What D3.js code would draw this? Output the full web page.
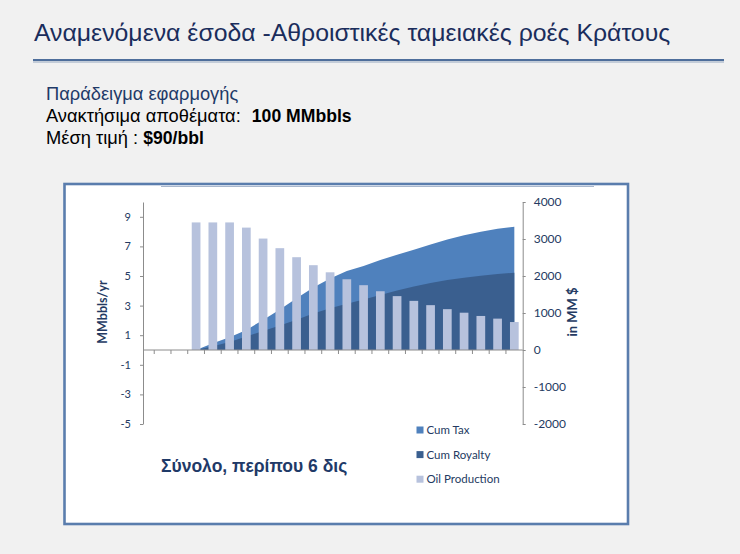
<!DOCTYPE html>
<html>
<head>
<meta charset="utf-8">
<script src="https://cdn.jsdelivr.net/npm/d3@7"></script>
<style>
  body { margin: 0; background: #f1f1f1; }
  svg { display: block; }
</style>
</head>
<body>
<svg id="chart" width="740" height="554"></svg>
<script>
// years on the category axis (first two are before production starts)
const years = [-1, 0, 1, 2, 3, 4, 5, 6, 7, 8, 9, 10, 11, 12, 13, 14, 15, 16, 17, 18, 19, 20];
const prodYears = [1, 2, 3, 4, 5, 6, 7, 8, 9, 10, 11, 12, 13, 14, 15, 16, 17, 18, 19, 20];

// MMbbls/yr
const oilProduction = [8.62, 8.62, 8.62, 8.27, 7.53, 6.88, 6.27, 5.73, 5.25, 4.78,
                       4.38, 3.97, 3.64, 3.32, 3.03, 2.76, 2.52, 2.30, 2.12, 1.89];
// in MM $
const cumTax = [0, 180, 345, 543, 812, 1097, 1399, 1690, 1935, 2134,
                2270, 2431, 2575, 2712, 2849, 2985, 3101, 3196, 3274, 3332];
const cumRoyalty = [0, 100, 214, 364, 512, 660, 819, 984, 1131, 1250,
                    1366, 1489, 1607, 1718, 1813, 1891, 1956, 2006, 2053, 2090];

const leftTicks = [-5, -3, -1, 1, 3, 5, 7, 9];
const rightTicks = [-2000, -1000, 0, 1000, 2000, 3000, 4000];

const legendItems = [
    { name: "Cum Tax", color: "#4f81bd" },
    { name: "Cum Royalty", color: "#3a5f8f" },
    { name: "Oil Production", color: "#b7c2dd" }
];

const svg = d3.select("#chart");
const sans = "'Liberation Sans', Arial, sans-serif";

// page heading
svg.append("text")
   .attr("x", 34)
   .attr("y", 41)
   .attr("fill", "#1a2d5c")
   .style("font-family", sans)
   .style("font-size", "24.8px")
   .text("Αναμενόμενα έσοδα -Αθροιστικές ταμειακές ροές Κράτους");

svg.append("line")
   .attr("x1", 33).attr("x2", 724)
   .attr("y1", 62).attr("y2", 62)
   .attr("stroke", "#c3ccd8")
   .attr("stroke-width", 2);
svg.append("line")
   .attr("x1", 33).attr("x2", 724)
   .attr("y1", 60).attr("y2", 60)
   .attr("stroke", "#4e6e9b")
   .attr("stroke-width", 2.2);

const info = svg.append("g")
                .style("font-family", sans)
                .style("font-size", "18.3px");

info.append("text")
    .attr("x", 46).attr("y", 100)
    .attr("fill", "#1f3a68")
    .text("Παράδειγμα εφαρμογής");

const l2 = info.append("text").attr("x", 46).attr("y", 122).attr("fill", "#000");
l2.append("tspan").text("Ανακτήσιμα αποθέματα: ");
l2.append("tspan")
  .attr("dx", 6)
  .style("font-weight", "bold")
  .style("font-size", "17.6px")
  .text("100 MMbbls");

const l3 = info.append("text").attr("x", 46).attr("y", 144).attr("fill", "#000");
l3.append("tspan").text("Μέση τιμή : ");
l3.append("tspan")
  .style("font-weight", "bold")
  .style("font-size", "17.6px")
  .text("$90/bbl");

// chart frame
svg.append("rect")
   .attr("x", 64.5).attr("y", 184)
   .attr("width", 563.5).attr("height", 340)
   .attr("fill", "#fff")
   .attr("stroke", "#5a7dad")
   .attr("stroke-width", 2.6);
svg.append("line")
   .attr("x1", 161).attr("x2", 594)
   .attr("y1", 186.5).attr("y2", 186.5)
   .attr("stroke", "#a9b7cc")
   .attr("stroke-width", 1.2);

const plotLeft = 143;
const plotRight = 522.7;
const plotTop = 202;
const plotBottom = 424;

const x = d3.scaleBand()
            .domain(years)
            .range([plotLeft, plotRight])
            .paddingInner(0)
            .paddingOuter(0.335)
            .align(1);

const yL = d3.scaleLinear().domain([-5, 10]).range([plotBottom, plotTop]);
const yR = d3.scaleLinear().domain([-2000, 4000]).range([plotBottom, plotTop]);

const cx = d => x(d) + x.bandwidth() / 2;

const area = vals => d3.area()
    .x((d, i) => cx(prodYears[i]))
    .y0(yR(0))
    .y1(d => yR(d))(vals);

svg.append("path")
   .attr("d", area(cumTax))
   .attr("fill", "#4f81bd");

svg.append("path")
   .attr("d", area(cumRoyalty))
   .attr("fill", "#3a5f8f");

const barW = x.bandwidth() * 0.52;
svg.selectAll(".bar")
   .data(oilProduction)
   .enter()
   .append("rect")
   .attr("class", "bar")
   .attr("x", (d, i) => cx(prodYears[i]) - barW / 2)
   .attr("y", d => yL(d))
   .attr("width", barW)
   .attr("height", d => yL(0) - yL(d))
   .attr("fill", "#b7c2dd");

// axes
const axisFont = "Lato, 'Open Sans', sans-serif";

const gLeft = svg.append("g")
                 .attr("transform", `translate(${plotLeft},0)`)
                 .call(d3.axisLeft(yL)
                         .tickValues(leftTicks)
                         .tickFormat(d => String(d))
                         .tickSize(3).tickPadding(9).tickSizeOuter(0));

const gRight = svg.append("g")
                  .attr("transform", `translate(${plotRight},0)`)
                  .call(d3.axisRight(yR)
                          .tickValues(rightTicks)
                          .tickFormat(d => String(d))
                          .tickSize(3).tickPadding(8).tickSizeOuter(0));

[gLeft, gRight].forEach(g => {
    g.selectAll("path, line").attr("stroke", "#8c8c8c");
    g.selectAll("text")
     .attr("fill", "#243a62")
     .style("font-family", axisFont);
});
gLeft.selectAll("text").style("font-size", "11px");
gRight.selectAll("text").style("font-size", "12px");

// category axis at zero with ticks between categories
svg.append("line")
   .attr("x1", plotLeft).attr("x2", plotRight)
   .attr("y1", yL(0)).attr("y2", yL(0))
   .attr("stroke", "#8c8c8c");

svg.selectAll(".xtick")
   .data(years)
   .enter()
   .append("line")
   .attr("class", "xtick")
   .attr("x1", d => x(d)).attr("x2", d => x(d))
   .attr("y1", yL(0)).attr("y2", yL(0) + 4)
   .attr("stroke", "#8c8c8c");

svg.append("text")
   .attr("transform", `translate(107,312) rotate(-90)`)
   .attr("text-anchor", "middle")
   .attr("fill", "#243a62")
   .style("font-family", axisFont)
   .style("font-size", "12.5px")
   .style("font-weight", "bold")
   .text("MMbbls/yr");

svg.append("text")
   .attr("transform", `translate(577,312) rotate(-90)`)
   .attr("text-anchor", "middle")
   .attr("fill", "#243a62")
   .style("font-family", axisFont)
   .style("font-size", "13px")
   .style("font-weight", "bold")
   .text("in MM $");

// legend
const legend = svg.append("g")
                  .attr("transform", "translate(416.5,430)");

legendItems.forEach((item, i) => {
    const row = legend.append("g")
                      .attr("transform", `translate(0,${i * 24.6})`);
    row.append("rect")
       .attr("x", 0).attr("y", -3.5)
       .attr("width", 7).attr("height", 7)
       .attr("fill", item.color);
    row.append("text")
       .attr("x", 10)
       .attr("y", 4)
       .attr("fill", "#243a62")
       .style("font-family", axisFont)
       .style("font-size", "11.5px")
       .text(item.name);
});

svg.append("text")
   .attr("x", 161)
   .attr("y", 472)
   .attr("fill", "#1f3a68")
   .style("font-family", sans)
   .style("font-size", "17.5px")
   .style("font-weight", "bold")
   .text("Σύνολο, περίπου 6 δις");
</script>
</body>
</html>
